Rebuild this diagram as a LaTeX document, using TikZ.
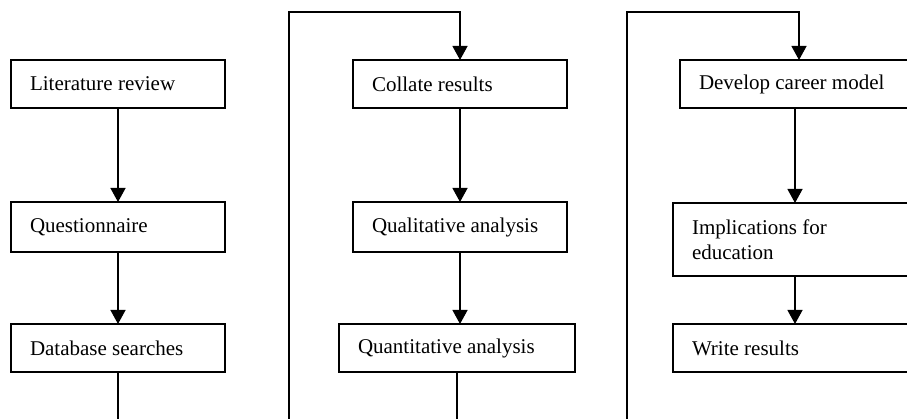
\documentclass[tikz,border=0pt]{standalone}
\usepackage{fontspec}
\setmainfont{Liberation Serif}
\usetikzlibrary{arrows.meta}

\begin{document}
\begin{tikzpicture}[x=1pt,y=-1pt,
	stage/.style={draw, line width=1.3pt, anchor=north west, outer sep=0pt,
		inner xsep=19pt, inner ysep=0pt, align=flush left,
		font=\fontsize{21}{25}\selectfont},
	flow/.style={line width=1.3pt, -{Triangle[length=14pt,width=15pt]}},
	link/.style={line width=1.3pt}]
	\useasboundingbox (0,0) rectangle (907,419);

	% first column
	\node[stage, text width=176pt, minimum height=48pt] (lit) at (11,60) {Literature review};
	\node[stage, text width=176pt, minimum height=50pt] (quest) at (11,202) {Questionnaire};
	\node[stage, text width=176pt, minimum height=48pt] (db) at (11,324) {Database searches};
	\coordinate (dbend) at (118,420);

	\draw[flow] (lit) -- (quest);
	\draw[flow] (quest) -- (db);
	\draw[link] (db) -- (dbend);

	% second column
	\node[stage, text width=176pt, minimum height=48pt] (coll) at (353,60) {Collate results};
	\node[stage, text width=176pt, minimum height=50pt] (qual) at (353,202) {Qualitative analysis};
	\node[stage, text width=198pt, minimum height=48pt] (quant) at (339,324) {Quantitative analysis};
	\coordinate (loopa) at (289,420);
	\coordinate (topa) at (289,12);
	\coordinate (quantend) at (457,420);

	\draw[flow] (loopa) -- (topa) -| (coll);
	\draw[flow] (coll) -- (qual);
	\draw[flow] (qual.south) -- (qual.south |- quant.north);
	\draw[link] (quant) -- (quantend);

	% third column
	\node[stage, text width=200pt, minimum height=48pt] (dev) at (680,60) {Develop career model};
	\node[stage, text width=206pt, minimum height=73pt] (impl) at (673,203) {Implications for education};
	\node[stage, text width=206pt, minimum height=48pt] (write) at (673,324) {Write results};
	\coordinate (loopb) at (627,420);
	\coordinate (topb) at (627,12);

	\draw[flow] (loopb) -- (topb) -| (dev);
	\draw[flow] (impl.north |- dev.south) -- (impl);
	\draw[flow] (impl) -- (write);
\end{tikzpicture}
\end{document}
